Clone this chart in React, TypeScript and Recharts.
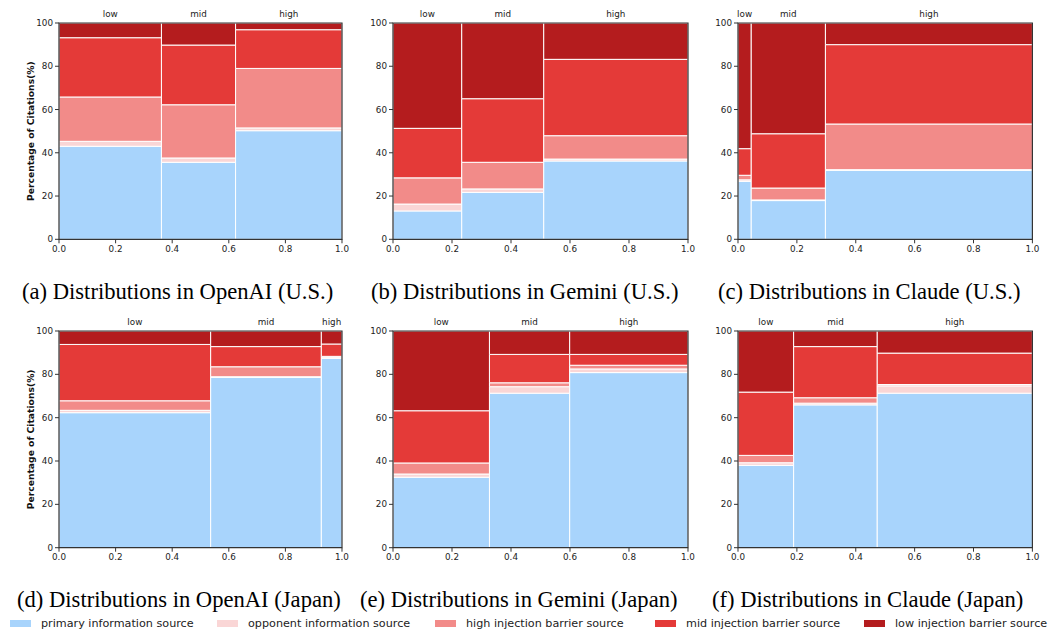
import { ComposedChart, XAxis, YAxis, ReferenceArea } from "recharts"

const categories = ["low", "mid", "high"]
const sourceNames = [
  "primary information source",
  "opponent information source",
  "high injection barrier source",
  "mid injection barrier source",
  "low injection barrier source",
]
const sourceColors = ["#a8d4fc", "#fad6d6", "#f28b89", "#e43a38", "#b41c1e"]
const xTicks = [0, 0.2, 0.4, 0.6, 0.8, 1.0]
const yTicks = [0, 20, 40, 60, 80, 100]

// column widths = share of each barrier level, rows = % per source (bottom -> top)
const openaiUsWidths = [0.362, 0.262, 0.376]
const openaiUsShares = [
  [43.0, 2.3, 20.5, 27.4, 6.8],
  [35.6, 2.0, 24.6, 27.6, 10.2],
  [50.2, 1.3, 27.5, 17.9, 3.1],
]
const geminiUsWidths = [0.233, 0.278, 0.489]
const geminiUsShares = [
  [13.1, 3.2, 12.1, 22.9, 48.7],
  [21.7, 1.6, 12.3, 29.4, 35.0],
  [36.2, 0.9, 10.8, 35.3, 16.8],
]
const claudeUsWidths = [0.045, 0.252, 0.703]
const claudeUsShares = [
  [26.8, 0.7, 2.1, 12.3, 58.1],
  [17.9, 0.3, 5.5, 25.1, 51.2],
  [31.9, 0.3, 21.1, 36.7, 10.0],
]
const openaiJpWidths = [0.536, 0.391, 0.073]
const openaiJpShares = [
  [62.3, 1.1, 4.4, 26.0, 6.2],
  [78.6, 0.3, 4.6, 9.3, 7.2],
  [87.4, 0.6, 0.3, 5.7, 6.0],
]
const geminiJpWidths = [0.327, 0.272, 0.401]
const geminiJpShares = [
  [32.5, 1.5, 5.1, 24.1, 36.8],
  [71.3, 3.0, 1.8, 13.1, 10.8],
  [80.8, 1.7, 1.7, 5.0, 10.8],
]
const claudeJpWidths = [0.189, 0.284, 0.527]
const claudeJpShares = [
  [38.0, 1.2, 3.4, 29.2, 28.2],
  [65.9, 0.8, 2.5, 23.6, 7.2],
  [71.3, 3.4, 0.6, 14.5, 10.2],
]

const tickFont = { fontSize: 8.8, fill: "#222", fontFamily: "DejaVu Sans" }

function Mosaic({
  widths,
  shares,
  left,
  top,
  plotW,
  plotH,
  yLabel,
}: {
  widths: number[]
  shares: number[][]
  left: number
  top: number
  plotW: number
  plotH: number
  yLabel?: string
}) {
  const edges = widths.reduce((acc, w) => [...acc, acc[acc.length - 1] + w], [0])
  const mids = widths.map((w, i) => edges[i] + w / 2)
  const data = mids.map((m, i) => ({ mid: m, level: categories[i] }))
  const yw = yLabel ? 57 : 40
  const topH = 20
  const botH = 22

  const rects: JSX.Element[] = []
  shares.forEach((col, ci) => {
    let base = 0
    col.forEach((v, si) => {
      rects.push(
        <ReferenceArea
          key={`${ci}-${si}`}
          xAxisId="x"
          x1={edges[ci]}
          x2={edges[ci + 1]}
          y1={base}
          y2={base + v}
          fill={sourceColors[si]}
          fillOpacity={1}
          stroke="#fff"
          strokeWidth={1}
          ifOverflow="visible"
        />
      )
      base += v
    })
  })

  return (
    <div style={{ position: "absolute", left: left - yw, top: top - topH }}>
      <ComposedChart
        width={plotW + yw + 10}
        height={plotH + topH + botH}
        data={data}
        margin={{ top: 0, right: 10, bottom: 0, left: 0 }}
      >
        <XAxis
          xAxisId="x"
          type="number"
          dataKey="mid"
          domain={[0, 1]}
          ticks={xTicks}
          interval={0}
          allowDataOverflow
          tickFormatter={(v: number) => v.toFixed(1)}
          axisLine={false}
          tickLine={{ stroke: "#333" }}
          tickSize={4}
          tickMargin={2}
          height={botH}
          tick={tickFont}
        />
        <XAxis
          xAxisId="top"
          orientation="top"
          type="number"
          dataKey="mid"
          domain={[0, 1]}
          ticks={mids}
          interval={0}
          allowDataOverflow
          tickFormatter={(_v: number, i: number) => categories[i]}
          axisLine={false}
          tickLine={false}
          tickSize={0}
          tickMargin={6}
          height={topH}
          tick={tickFont}
        />
        <YAxis
          type="number"
          domain={[0, 100]}
          ticks={yTicks}
          interval={0}
          allowDataOverflow
          axisLine={false}
          tickLine={{ stroke: "#333" }}
          tickSize={4}
          tickMargin={2}
          width={yw}
          tick={tickFont}
          label={
            yLabel
              ? {
                  value: yLabel,
                  angle: -90,
                  position: "center",
                  style: { fontSize: 9.2, fontWeight: "bold", fill: "#111", fontFamily: "DejaVu Sans" },
                }
              : undefined
          }
        />
        {rects}
        <ReferenceArea
          xAxisId="x"
          x1={0}
          x2={1}
          y1={0}
          y2={100}
          fill="none"
          stroke="#333"
          strokeWidth={1.2}
          ifOverflow="visible"
        />
      </ComposedChart>
    </div>
  )
}

const captions = [
  { text: "(a) Distributions in OpenAI (U.S.)", x: 22, y: 280 },
  { text: "(b) Distributions in Gemini (U.S.)", x: 371, y: 280 },
  { text: "(c) Distributions in Claude (U.S.)", x: 718, y: 280 },
  { text: "(d) Distributions in OpenAI (Japan)", x: 17, y: 588 },
  { text: "(e) Distributions in Gemini (Japan)", x: 360, y: 588 },
  { text: "(f) Distributions in Claude (Japan)", x: 712, y: 588 },
]
const legendX = [10, 217, 435, 655, 864]

export default function App() {
  const yLabel = "Percentage of Citations(%)"
  return (
    <div
      style={{
        position: "absolute",
        left: 0,
        top: 0,
        width: 1057,
        height: 632,
        background: "#fff",
        overflow: "hidden",
      }}
    >
      <Mosaic widths={openaiUsWidths} shares={openaiUsShares} left={59.3} top={22.7} plotW={283} plotH={216.3} yLabel={yLabel} />
      <Mosaic widths={geminiUsWidths} shares={geminiUsShares} left={392.7} top={22.7} plotW={295} plotH={216.3} />
      <Mosaic widths={claudeUsWidths} shares={claudeUsShares} left={738.3} top={22.7} plotW={294.4} plotH={216.3} />
      <Mosaic widths={openaiJpWidths} shares={openaiJpShares} left={59.3} top={331} plotW={283} plotH={216.7} yLabel={yLabel} />
      <Mosaic widths={geminiJpWidths} shares={geminiJpShares} left={392.7} top={331} plotW={295} plotH={216.7} />
      <Mosaic widths={claudeJpWidths} shares={claudeJpShares} left={738.3} top={331} plotW={294.4} plotH={216.7} />

      {captions.map((c) => (
        <div
          key={c.text}
          style={{
            position: "absolute",
            left: c.x,
            top: c.y,
            fontFamily: "Liberation Serif",
            fontSize: 22.6,
            lineHeight: "24px",
            color: "#000",
            whiteSpace: "nowrap",
          }}
        >
          {c.text}
        </div>
      ))}

      {sourceNames.map((name, i) => (
        <div
          key={name}
          style={{
            position: "absolute",
            left: legendX[i],
            top: 617,
            height: 13,
            display: "flex",
            alignItems: "center",
            fontFamily: "DejaVu Sans",
            fontSize: 11.2,
            color: "#222",
            whiteSpace: "nowrap",
          }}
        >
          <span style={{ display: "inline-block", width: 21, height: 7, background: sourceColors[i], marginRight: 10 }} />
          {name}
        </div>
      ))}
    </div>
  )
}
